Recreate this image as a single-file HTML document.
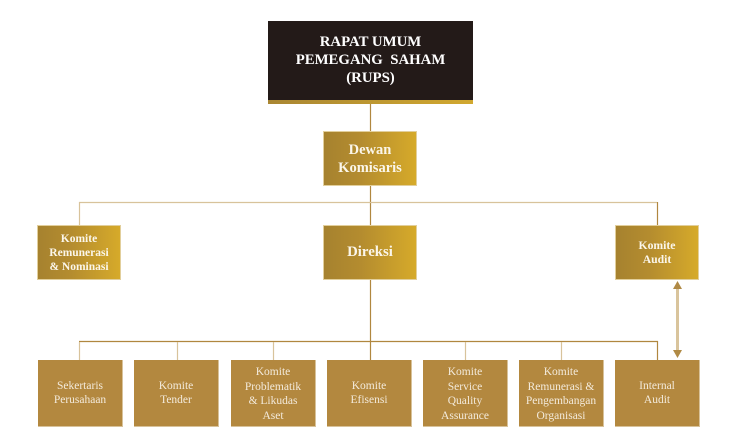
<!DOCTYPE html>
<html><head><meta charset="utf-8"><style>
html,body{margin:0;padding:0;background:#fff;}
body{width:742px;height:444px;position:relative;overflow:hidden;font-family:"Liberation Serif",serif;}
.b{position:absolute;box-sizing:border-box;display:flex;align-items:center;justify-content:center;text-align:center;}
.g{background:linear-gradient(90deg,#a6822f 0%,#b48c2f 40%,#d6aa2a 100%);border:1px solid #e2cf9c;color:#fbf6ea;font-weight:bold;}
.s{background:#b3883f;border-right:1px solid #d8c29a;border-bottom:1px solid #d8c29a;color:#f3eadb;font-size:11.5px;line-height:14.5px;}
svg{position:absolute;left:0;top:0;}
</style></head><body>
<svg width="742" height="444">
  <g stroke="#b0873f" stroke-width="1.2" fill="none">
    <line x1="370.5" y1="104" x2="370.5" y2="131"/>
    <line x1="370.5" y1="186" x2="370.5" y2="225"/>
    <line x1="657.5" y1="202" x2="657.5" y2="225"/>
    <line x1="370.5" y1="280" x2="370.5" y2="360"/>
    <line x1="79" y1="341.5" x2="658" y2="341.5"/>
    <line x1="657.5" y1="341" x2="657.5" y2="360"/>
  </g>
  <g stroke="#d8c39b" stroke-width="1.2" fill="none">
    <line x1="79" y1="202.5" x2="657" y2="202.5"/>
    <line x1="79.5" y1="202" x2="79.5" y2="225"/>
    <line x1="79.5" y1="342" x2="79.5" y2="360"/>
    <line x1="177.5" y1="342" x2="177.5" y2="360"/>
    <line x1="273.5" y1="342" x2="273.5" y2="360"/>
    <line x1="465.5" y1="342" x2="465.5" y2="360"/>
    <line x1="561.5" y1="342" x2="561.5" y2="360"/>
  </g>
  <line x1="677.5" y1="287" x2="677.5" y2="352" stroke="#d9c49c" stroke-width="3"/>
  <polygon points="677.5,281 673,289 682,289" fill="#b08a45"/>
  <polygon points="677.5,358 673,350 682,350" fill="#b08a45"/>
</svg>

<div class="b" style="left:268px;top:21px;width:205px;height:79px;background:#231a18;color:#fff;font-weight:bold;font-size:14.8px;line-height:18px;padding-bottom:2px;">RAPAT UMUM<br>PEMEGANG&nbsp; SAHAM<br>(RUPS)</div>
<div style="position:absolute;left:268px;top:100px;width:205px;height:4px;background:linear-gradient(90deg,#a98632,#d1a830);"></div>

<div class="b g" style="left:323px;top:131px;width:94px;height:55px;font-size:14.5px;line-height:18px;">Dewan<br>Komisaris</div>

<div class="b g" style="left:37px;top:225px;width:84px;height:55px;font-size:11.5px;line-height:14px;">Komite<br>Remunerasi<br>&amp; Nominasi</div>
<div class="b g" style="left:323px;top:225px;width:94px;height:55px;font-size:14.8px;">Direksi</div>
<div class="b g" style="left:615px;top:225px;width:84px;height:55px;font-size:11.7px;line-height:14px;">Komite<br>Audit</div>

<div class="b s" style="left:38px;top:360px;width:85px;height:67px;">Sekertaris<br>Perusahaan</div>
<div class="b s" style="left:134px;top:360px;width:85px;height:67px;">Komite<br>Tender</div>
<div class="b s" style="left:231px;top:360px;width:85px;height:67px;padding-top:2px;">Komite<br>Problematik<br>&amp; Likudas<br>Aset</div>
<div class="b s" style="left:327px;top:360px;width:85px;height:67px;">Komite<br>Efisensi</div>
<div class="b s" style="left:423px;top:360px;width:85px;height:67px;padding-top:2px;">Komite<br>Service<br>Quality<br>Assurance</div>
<div class="b s" style="left:519px;top:360px;width:85px;height:67px;padding-top:2px;">Komite<br>Remunerasi &amp;<br>Pengembangan<br>Organisasi</div>
<div class="b s" style="left:615px;top:360px;width:85px;height:67px;">Internal<br>Audit</div>
</body></html>
